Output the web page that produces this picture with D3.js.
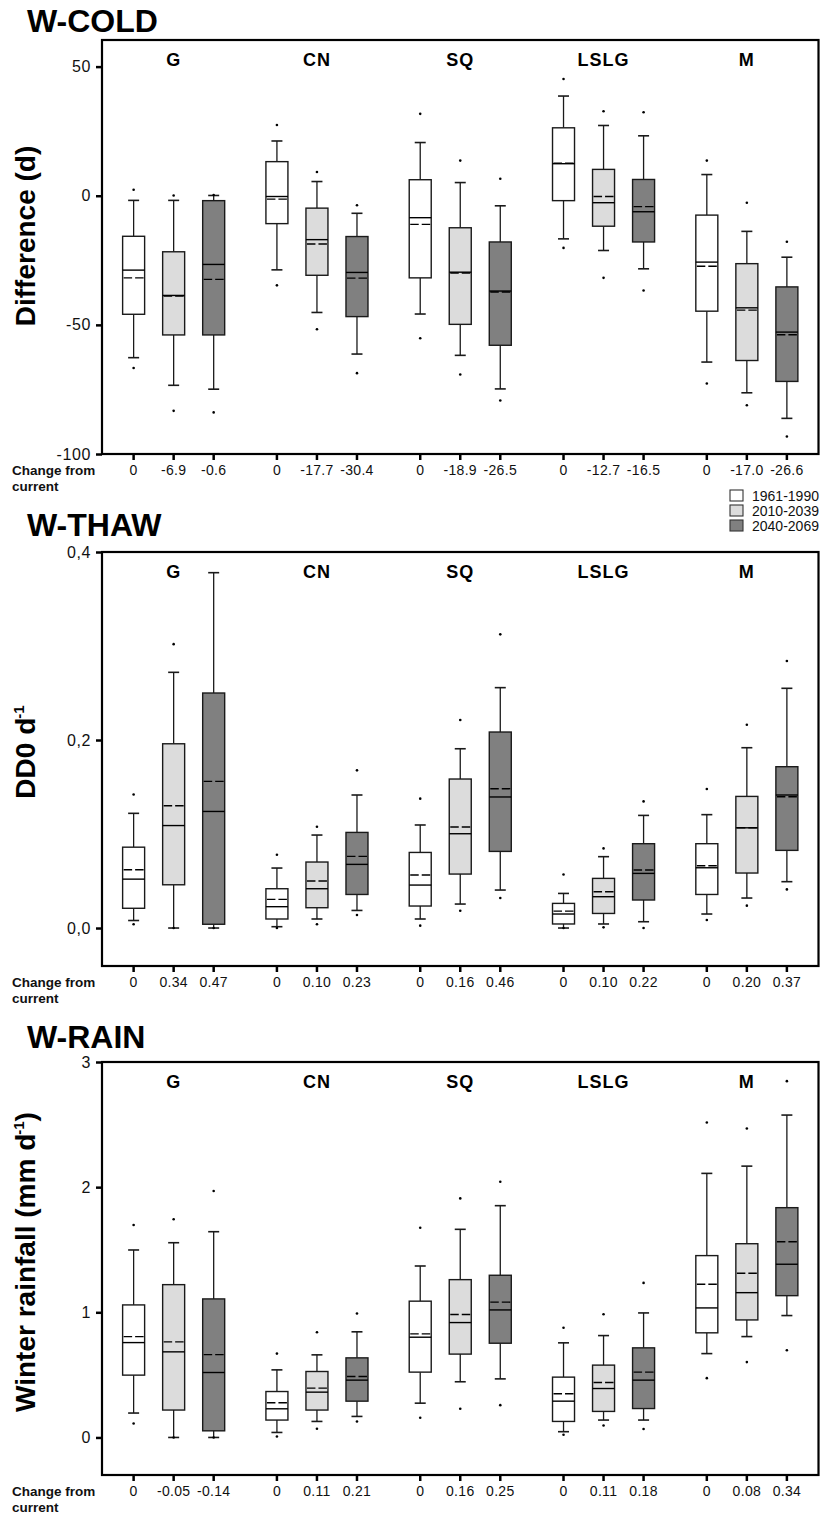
<!DOCTYPE html>
<html>
<head>
<meta charset="utf-8">
<script src="https://cdn.jsdelivr.net/npm/d3@7"></script>
<style>
  html, body { margin: 0; padding: 0; background: #fff; }
  svg { display: block; font-family: "Liberation Sans", Arial, Helvetica, sans-serif; }
</style>
</head>
<body>
<svg id="chart" width="822" height="1517"></svg>
<script>
// Site groups and climate periods
const groups = ["G", "CN", "SQ", "LSLG", "M"];
const periods = ["1961-1990", "2010-2039", "2040-2069"];
const periodFill = ["#ffffff", "#dcdcdc", "#808080"];

// One row per box, ordered G (3 periods), CN, SQ, LSLG, M.
// Row: [lower dot, lower whisker, Q1, median, mean, Q3, upper whisker, upper dot]
const coldStats = [
  [-66.7, -62.7, -45.9, -28.8, -31.8, -15.7, -1.8, 2.3],
  [-83.3, -73.4, -53.9, -38.6, -38.8, -21.7, -1.8, 0.1],
  [-83.9, -74.9, -53.9, -26.6, -32.4, -1.9, 0.1, 0.3],
  [-34.7, -28.7, -10.8, -0.3, -1.3, 13.2, 21.2, 27.4],
  [-51.7, -45.2, -30.8, -17.0, -18.7, -4.8, 5.5, 9.2],
  [-68.7, -61.3, -46.8, -29.7, -31.9, -15.8, -6.8, -3.7],
  [-55.2, -45.8, -31.8, -8.5, -11.1, 6.2, 20.6, 31.7],
  [-69.2, -61.8, -49.8, -29.6, -29.9, -12.4, 5.1, 13.6],
  [-79.3, -74.8, -57.9, -36.9, -37.3, -17.9, -3.9, 6.6],
  [-20.2, -16.7, -1.9, 12.4, 12.6, 26.3, 38.6, 45.2],
  [-31.8, -21.2, -11.8, -2.7, -0.3, 10.2, 27.2, 32.7],
  [-36.7, -28.3, -17.9, -6.2, -4.2, 6.3, 23.2, 32.3],
  [-72.7, -64.4, -44.7, -25.7, -27.3, -7.5, 8.2, 13.6],
  [-81.1, -76.3, -63.8, -43.4, -44.3, -26.3, -13.8, -2.7],
  [-93.2, -86.2, -71.9, -52.8, -53.8, -35.3, -23.8, -17.8]
];
const thawStats = [
  [0.004, 0.008, 0.021, 0.052, 0.062, 0.086, 0.122, 0.142],
  [0.0, 0.0, 0.046, 0.109, 0.130, 0.196, 0.272, 0.302],
  [0.0, 0.0, 0.004, 0.124, 0.156, 0.250, 0.378, null],
  [0.0, 0.0014, 0.0096, 0.0227, 0.0305, 0.0418, 0.0638, 0.078],
  [0.004, 0.0096, 0.0216, 0.0418, 0.050, 0.0702, 0.0989, 0.1078],
  [0.0138, 0.0187, 0.0357, 0.0677, 0.0762, 0.1017, 0.1415, 0.1677],
  [0.0025, 0.0096, 0.0234, 0.0457, 0.0564, 0.0804, 0.1096, 0.1376],
  [0.0184, 0.0255, 0.0574, 0.1003, 0.1074, 0.1585, 0.1907, 0.2213],
  [0.0319, 0.0404, 0.0815, 0.1394, 0.1482, 0.2085, 0.2557, 0.3124],
  [0.0, 0.0, 0.0043, 0.0149, 0.018, 0.0262, 0.0368, 0.057],
  [0.0007, 0.0043, 0.0155, 0.0333, 0.0386, 0.0528, 0.0759, 0.0847],
  [0.0, 0.0067, 0.0298, 0.0581, 0.0617, 0.0897, 0.1198, 0.1347],
  [0.0085, 0.0149, 0.0357, 0.0641, 0.0662, 0.0897, 0.1206, 0.1479],
  [0.0238, 0.0319, 0.0585, 0.1066, 0.1066, 0.14, 0.1918, 0.2163],
  [0.0411, 0.0493, 0.0826, 0.1415, 0.1397, 0.1716, 0.255, 0.284]
];
const rainStats = [
  [0.112, 0.195, 0.498, 0.758, 0.806, 1.059, 1.498, 1.698],
  [0.0, 0.0, 0.219, 0.684, 0.764, 1.221, 1.556, 1.743],
  [0.0, 0.0, 0.053, 0.519, 0.662, 1.107, 1.644, 1.969],
  [0.008, 0.04, 0.139, 0.229, 0.277, 0.367, 0.54, 0.67],
  [0.069, 0.128, 0.219, 0.362, 0.394, 0.527, 0.66, 0.841],
  [0.128, 0.168, 0.29, 0.458, 0.487, 0.636, 0.844, 0.99],
  [0.157, 0.274, 0.522, 0.801, 0.828, 1.089, 1.37, 1.676],
  [0.229, 0.445, 0.666, 0.918, 0.982, 1.261, 1.663, 1.91],
  [0.258, 0.468, 0.753, 1.019, 1.081, 1.296, 1.852, 2.043],
  [0.022, 0.046, 0.128, 0.29, 0.349, 0.482, 0.756, 0.876],
  [0.096, 0.139, 0.208, 0.391, 0.439, 0.578, 0.814, 0.985],
  [0.067, 0.139, 0.231, 0.458, 0.522, 0.716, 0.995, 1.235],
  [0.474, 0.67, 0.836, 1.035, 1.224, 1.453, 2.11, 2.517],
  [0.602, 0.806, 0.939, 1.157, 1.312, 1.548, 2.168, 2.469],
  [0.697, 0.974, 1.133, 1.384, 1.564, 1.836, 2.576, 2.847]
];

// "Change from current" labels under each box
const coldChange = ["0", "-6.9", "-0.6", "0", "-17.7", "-30.4", "0", "-18.9", "-26.5", "0", "-12.7", "-16.5", "0", "-17.0", "-26.6"];
const thawChange = ["0", "0.34", "0.47", "0", "0.10", "0.23", "0", "0.16", "0.46", "0", "0.10", "0.22", "0", "0.20", "0.37"];
const rainChange = ["0", "-0.05", "-0.14", "0", "0.11", "0.21", "0", "0.16", "0.25", "0", "0.11", "0.18", "0", "0.08", "0.34"];

// Y axis ticks and their printed labels
const coldTicks = [50, 0, -50, -100];
const coldTickLabels = ["50", "0", "-50", "-100"];
const thawTicks = [0.4, 0.2, 0.0];
const thawTickLabels = ["0,4", "0,2", "0,0"];
const rainTicks = [3, 2, 1, 0];
const rainTickLabels = ["3", "2", "1", "0"];

const svg = d3.select("#chart");
svg.append("rect").attr("width", 822).attr("height", 1517).attr("fill", "#fff");

const plotLeft = 102, plotRight = 818.5;
const xGroup = d3.scaleBand().domain(groups).range([plotLeft, plotRight]).padding(0);
const xPeriod = d3.scalePoint().domain(periods).range([0, xGroup.bandwidth()]).padding(0.79);
const boxW = 22, capW = 11;

function boxX(i) {
  return xGroup(groups[Math.floor(i / 3)]) + xPeriod(periods[i % 3]);
}

function drawPanel(cfg) {
  const g = svg.append("g");
  const y = d3.scaleLinear().domain(cfg.domain).range([cfg.bottom, cfg.top]);

  // Title
  g.append("text").attr("x", 27).attr("y", cfg.titleY)
    .attr("font-size", 32).attr("font-weight", "bold").attr("fill", "#000")
    .text(cfg.title);

  // Frame
  g.append("rect").attr("x", plotLeft).attr("y", cfg.top)
    .attr("width", plotRight - plotLeft).attr("height", cfg.bottom - cfg.top)
    .attr("fill", "none").attr("stroke", "#000").attr("stroke-width", 2.2);

  // Y axis
  const yAxis = d3.axisLeft(y).tickValues(cfg.ticks)
    .tickFormat((d, i) => cfg.tickLabels[i]).tickSize(6).tickPadding(5);
  const ya = g.append("g").attr("transform", `translate(${plotLeft},0)`).call(yAxis);
  ya.select(".domain").remove();
  ya.selectAll(".tick line").attr("stroke", "#000").attr("stroke-width", 2.5);
  ya.selectAll(".tick text").attr("font-size", 16).attr("fill", "#111")
    .attr("font-family", "Liberation Sans, Arial, sans-serif").style("letter-spacing", "0.6px");

  // Y label (rotated)
  const yl = g.append("text")
    .attr("transform", `translate(35,${cfg.labelY}) rotate(-90)`)
    .attr("text-anchor", "middle").attr("font-size", 28).attr("font-weight", "bold");
  yl.append("tspan").text(cfg.ylabel);
  if (cfg.ysup) {
    yl.append("tspan").attr("font-size", 15).attr("dy", -11).attr("dx", -1).text(cfg.ysup);
    if (cfg.yafter) yl.append("tspan").attr("dy", 11).text(cfg.yafter);
  }

  // Group labels inside the frame
  g.selectAll(".grp").data(groups).join("text")
    .attr("x", d => xGroup(d) + xGroup.bandwidth() / 2)
    .attr("y", cfg.top + 26)
    .attr("text-anchor", "middle").attr("font-size", 18).attr("font-weight", "bold")
    .style("letter-spacing", "1px")
    .text(d => d);

  // X ticks and "change from current" labels
  const idx = d3.range(cfg.stats.length);
  g.selectAll(".xt").data(idx).join("line")
    .attr("x1", boxX).attr("x2", boxX)
    .attr("y1", cfg.bottom).attr("y2", cfg.bottom + 6)
    .attr("stroke", "#000").attr("stroke-width", 2.5);
  g.selectAll(".xl").data(idx).join("text")
    .attr("x", boxX).attr("y", cfg.bottom + 21)
    .attr("text-anchor", "middle").attr("font-size", 14).attr("fill", "#111")
    .style("letter-spacing", "0.3px")
    .text(i => cfg.change[i]);
  const cl = g.append("text").attr("font-size", 13.5).attr("font-weight", "bold").attr("fill", "#111");
  cl.append("tspan").attr("x", 12).attr("y", cfg.bottom + 21).text("Change from");
  cl.append("tspan").attr("x", 12).attr("y", cfg.bottom + 37).text("current");

  // Boxes
  const boxes = g.selectAll(".box").data(cfg.stats).join("g");
  boxes.each(function (s, i) {
    const b = d3.select(this);
    const cx = boxX(i);
    const [lo, wLo, q1, med, mean, q3, wHi, hi] = s;
    const stroke = "#1a1a1a";
    // whiskers
    b.append("line").attr("x1", cx).attr("x2", cx).attr("y1", y(wLo)).attr("y2", y(q1))
      .attr("stroke", stroke).attr("stroke-width", 1.3);
    b.append("line").attr("x1", cx).attr("x2", cx).attr("y1", y(q3)).attr("y2", y(wHi))
      .attr("stroke", stroke).attr("stroke-width", 1.3);
    [wLo, wHi].forEach(v => {
      b.append("line").attr("x1", cx - capW / 2).attr("x2", cx + capW / 2)
        .attr("y1", y(v)).attr("y2", y(v)).attr("stroke", stroke).attr("stroke-width", 1.6);
    });
    // box
    b.append("rect").attr("x", cx - boxW / 2).attr("y", y(q3))
      .attr("width", boxW).attr("height", y(q1) - y(q3))
      .attr("fill", periodFill[i % 3]).attr("stroke", stroke).attr("stroke-width", 1.4);
    // median (solid) and mean (dashed)
    b.append("line").attr("x1", cx - boxW / 2).attr("x2", cx + boxW / 2)
      .attr("y1", y(med)).attr("y2", y(med)).attr("stroke", "#000").attr("stroke-width", 1.4);
    b.append("line").attr("x1", cx - boxW / 2 + 1).attr("x2", cx + boxW / 2 - 1)
      .attr("y1", y(mean)).attr("y2", y(mean)).attr("stroke", "#000").attr("stroke-width", 1.4)
      .attr("stroke-dasharray", "8.5,3");
    // extreme values
    [lo, hi].forEach(v => {
      if (v === null) return;
      b.append("circle").attr("cx", cx).attr("cy", y(v)).attr("r", 1.3).attr("fill", "#000");
    });
  });
}

drawPanel({
  title: "W-COLD", titleY: 32, top: 40, bottom: 454, domain: [-100, 60.3],
  ticks: coldTicks, tickLabels: coldTickLabels, ylabel: "Difference (d)", labelY: 236,
  stats: coldStats, change: coldChange
});
drawPanel({
  title: "W-THAW", titleY: 536, top: 552, bottom: 966, domain: [-0.0404, 0.4],
  ticks: thawTicks, tickLabels: thawTickLabels, ylabel: "DD0 d", ysup: "-1", labelY: 752,
  stats: thawStats, change: thawChange
});
drawPanel({
  title: "W-RAIN", titleY: 1048, top: 1062, bottom: 1475, domain: [-0.3, 3],
  ticks: rainTicks, tickLabels: rainTickLabels, ylabel: "Winter rainfall (mm d", ysup: "-1", yafter: ")", labelY: 1262,
  stats: rainStats, change: rainChange
});

// Legend
const legend = svg.append("g").attr("transform", "translate(730,490)");
periods.forEach((p, i) => {
  legend.append("rect").attr("x", 0).attr("y", i * 15).attr("width", 13).attr("height", 11)
    .attr("fill", periodFill[i]).attr("stroke", "#333").attr("stroke-width", 1.1);
  legend.append("text").attr("x", 22).attr("y", i * 15 + 10.5)
    .attr("font-size", 14).attr("fill", "#111").text(p);
});
</script>
</body>
</html>
